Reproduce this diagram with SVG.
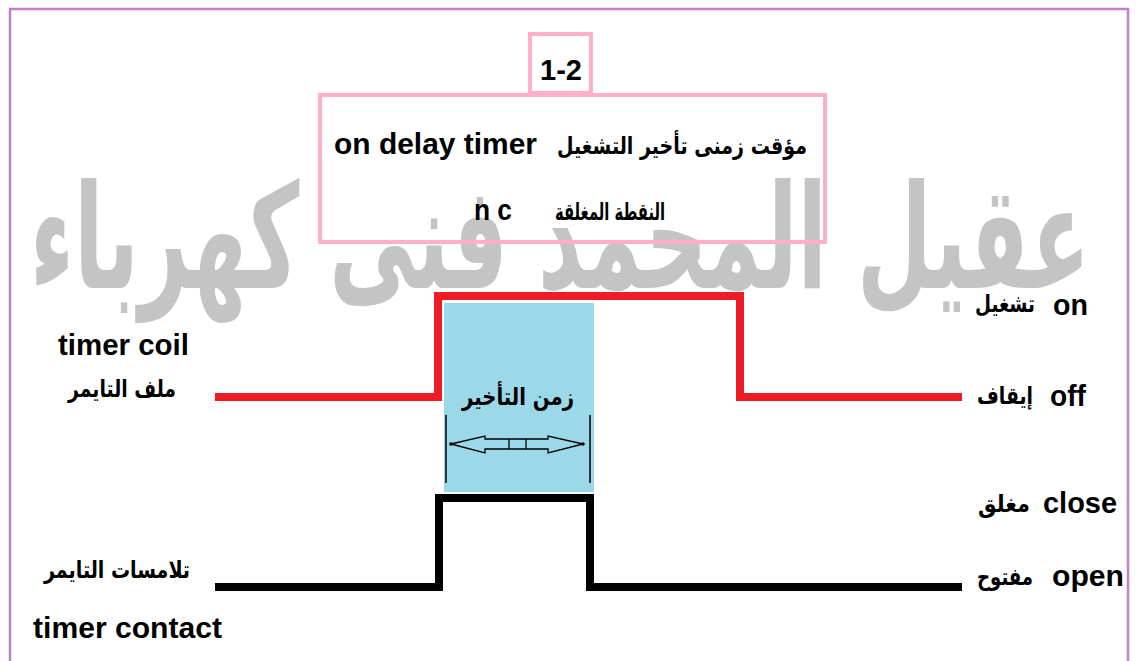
<svg xmlns="http://www.w3.org/2000/svg" width="1144" height="661" viewBox="0 0 1144 661">
<style>
.en{font-family:"Liberation Sans",Arial,sans-serif;font-weight:bold;fill:#000;font-size:29px}
.ar{font-family:"DejaVu Sans",sans-serif;font-weight:bold;fill:#000;font-size:24px;text-anchor:middle}
.wm{font-family:"DejaVu Sans",sans-serif;font-weight:bold;fill:#c4c4c4;font-size:145px;text-anchor:middle}
.pink{fill:none;stroke:#ffaecb;stroke-width:4}
.sig{fill:none;stroke-width:8;stroke-linejoin:miter}
</style>
<rect x="0" y="0" width="1144" height="661" fill="#fff"/>
<rect x="10" y="9" width="1118" height="670" fill="none" stroke="#c080c8" stroke-width="2.5"/>
<text class="wm" x="560" y="288" textLength="1060" lengthAdjust="spacingAndGlyphs">عقيل المحمد فنى كهرباء</text>
<g id="title-num">
<rect class="pink" x="530" y="34" width="61" height="59"/>
<text class="en" x="561" y="80" text-anchor="middle" font-size="28">1-2</text>
</g>
<g id="title-box">
<rect class="pink" x="320" y="95" width="505" height="147"/>
<text class="en" x="334" y="154" textLength="203" lengthAdjust="spacingAndGlyphs">on delay timer</text>
<text class="ar" x="682" y="154" textLength="250" lengthAdjust="spacingAndGlyphs">مؤقت زمنى تأخير التشغيل</text>
<text class="ar" x="610" y="220" textLength="110" lengthAdjust="spacingAndGlyphs">النقطة المغلقة</text>
<text class="en" x="474" y="220" textLength="38" lengthAdjust="spacingAndGlyphs">n c</text>
</g>
<g id="delay">
<rect x="444" y="303" width="150" height="189" fill="#9bd9e9"/>
<text class="ar" x="518" y="405" font-size="25" textLength="112" lengthAdjust="spacingAndGlyphs">زمن التأخير</text>
<line x1="446" y1="415" x2="446" y2="483" stroke="#000" stroke-width="1.5"/>
<line x1="590" y1="415" x2="590" y2="483" stroke="#000" stroke-width="1.5"/>
<polygon points="451,444 485,436 485,439 548,439 548,436 583,444 548,453 548,449 485,449 485,453" fill="none" stroke="#000" stroke-width="1.3"/>
<line x1="509" y1="439" x2="509" y2="449" stroke="#000" stroke-width="1.3"/>
<line x1="526" y1="439" x2="526" y2="449" stroke="#000" stroke-width="1.3"/>
<circle cx="451" cy="444" r="1.8" fill="#000"/>
<circle cx="583" cy="444" r="1.8" fill="#000"/>
</g>
<g id="connectors">
<polyline class="sig" stroke="#ee1c25" points="215,397 438,397 438,296 740,296 740,397 962,397"/>
<polyline class="sig" stroke="#000" points="215,587 439,587 439,498 590,498 590,587 962,587"/>
</g>
<g id="coil-label">
<text class="en" x="58" y="355" textLength="131" lengthAdjust="spacingAndGlyphs">timer coil</text>
<text class="ar" x="122" y="397" textLength="108" lengthAdjust="spacingAndGlyphs">ملف التايمر</text>
</g>
<g id="contact-label">
<text class="ar" x="117" y="578" textLength="146" lengthAdjust="spacingAndGlyphs">تلامسات التايمر</text>
<text class="en" x="33" y="638" textLength="189" lengthAdjust="spacingAndGlyphs">timer contact</text>
</g>
<g id="state-labels">
<text class="ar" x="1005" y="312" textLength="60" lengthAdjust="spacingAndGlyphs">تشغيل</text>
<text class="en" x="1053" y="315" textLength="35" lengthAdjust="spacingAndGlyphs">on</text>
<text class="ar" x="1005" y="404" textLength="56" lengthAdjust="spacingAndGlyphs">إيقاف</text>
<text class="en" x="1050" y="406" textLength="36" lengthAdjust="spacingAndGlyphs">off</text>
<text class="ar" x="1004" y="512" textLength="52" lengthAdjust="spacingAndGlyphs">مغلق</text>
<text class="en" x="1043" y="513" textLength="74" lengthAdjust="spacingAndGlyphs">close</text>
<text class="ar" x="1005" y="585" textLength="56" lengthAdjust="spacingAndGlyphs">مفتوح</text>
<text class="en" x="1052" y="586" textLength="72" lengthAdjust="spacingAndGlyphs">open</text>
</g>
</svg>
